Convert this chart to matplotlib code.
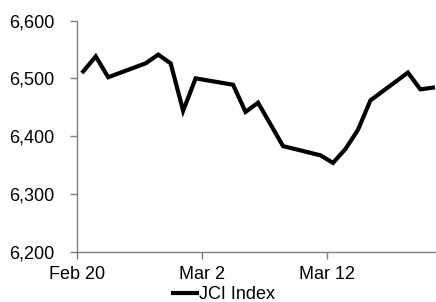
import numpy as np
import pandas as pd
import matplotlib
matplotlib.use("Agg")
import matplotlib.pyplot as plt

plt.rcParams['font.family'] = ['Liberation Sans', 'DejaVu Sans']

# JCI closing levels, Feb 20 - Mar 20 2019 (trading days)
dates = ["2019-02-20", "2019-02-21", "2019-02-22", "2019-02-25", "2019-02-26",
         "2019-02-27", "2019-02-28", "2019-03-01", "2019-03-04", "2019-03-05",
         "2019-03-06", "2019-03-08", "2019-03-11", "2019-03-12", "2019-03-13",
         "2019-03-14", "2019-03-15", "2019-03-18", "2019-03-19", "2019-03-20"]
jci = [6512, 6538, 6502, 6526, 6541,
       6526, 6444, 6500, 6489, 6442,
       6458, 6383, 6367, 6354, 6378,
       6411, 6462, 6510, 6481, 6484]
tick_dates = ["2019-02-20", "2019-03-02", "2019-03-12"]
tick_labels = ["Feb 20", "Mar 2", "Mar 12"]
series_name = "JCI Index"

x = pd.to_datetime(dates) + pd.Timedelta(hours=12)

fig = plt.figure(figsize=(4.36, 3.02), dpi=100)
ax = fig.add_axes([77 / 436, 50 / 302, 359 / 436, 231.5 / 302])
ax.plot(x, jci, color='black', lw=3, label=series_name, solid_joinstyle='miter')

start = pd.Timestamp(tick_dates[0])
ax.set_xlim(start, start + pd.Timedelta(days=28.75))
ax.set_ylim(6200, 6600)
ax.set_yticks(np.arange(6200, 6601, 100))
ax.yaxis.set_major_formatter(plt.FuncFormatter(lambda v, p: f"{v:,.0f}"))
ax.set_xticks(pd.to_datetime(tick_dates))
ax.set_xticklabels(tick_labels)

for side in ['top', 'right']:
    ax.spines[side].set_visible(False)
for side in ['left', 'bottom']:
    ax.spines[side].set_color('#7f7f7f')
    ax.spines[side].set_linewidth(1)
ax.tick_params(axis='both', colors='#7f7f7f', labelcolor='black',
               labelsize=13, length=5, width=1)
ax.tick_params(axis='y', pad=11)
ax.tick_params(axis='x', pad=5)

ax.legend(loc='center', bbox_to_anchor=(147 / 359, -0.183), frameon=False,
          fontsize=13, handlelength=1.3, handletextpad=0.1)

fig.savefig("out.png", dpi=100)
